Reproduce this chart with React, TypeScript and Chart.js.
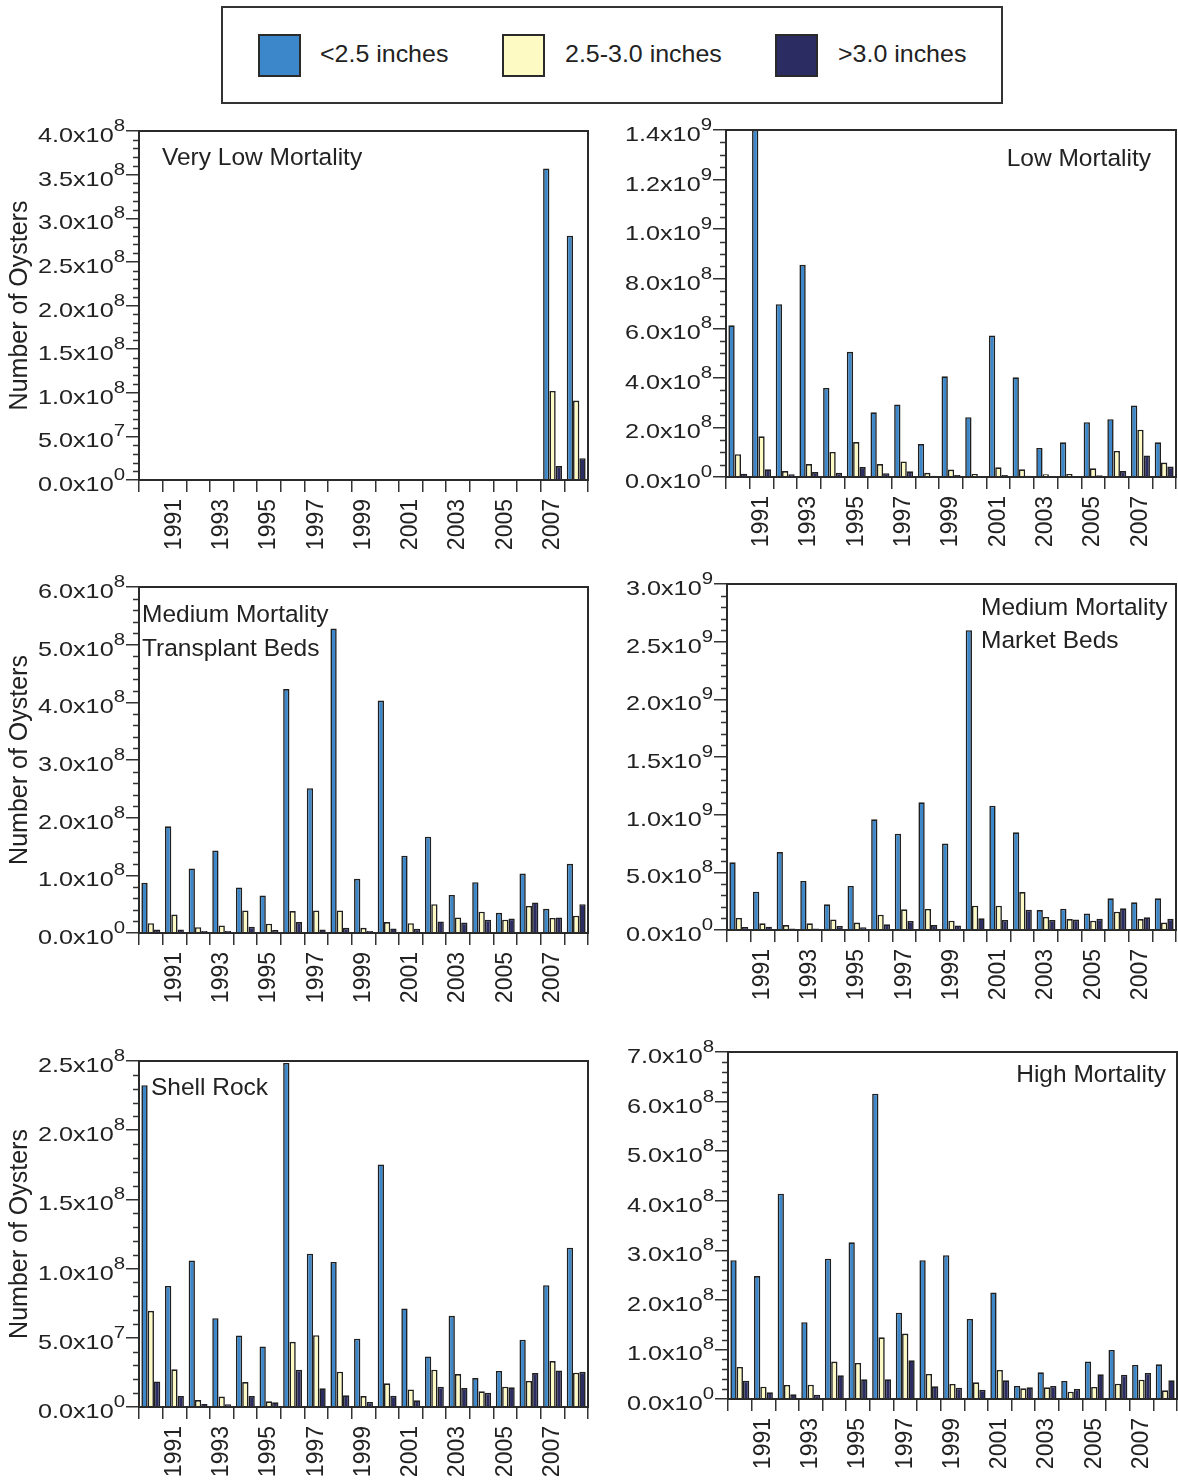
import React, { useEffect, useRef } from 'react';
import { Chart, registerables } from 'chart.js';

Chart.register(...registerables);

const FAMILY = '"Liberation Sans", Arial, Helvetica, sans-serif';

const YEARS = ['1990', '1991', '1992', '1993', '1994', '1995', '1996', '1997', '1998', '1999',
  '2000', '2001', '2002', '2003', '2004', '2005', '2006', '2007', '2008'];
const SERIES_LABELS = ['<2.5 inches', '2.5-3.0 inches', '>3.0 inches'];
const COLORS = ['#3b87c9', '#fefac4', '#2b2c62'];

// Very Low Mortality
const veryLowSmall = [0, 0, 0, 0, 0, 0, 0, 0, 0, 0, 0, 0, 0, 0, 0, 0, 0, 3.57e8, 2.8e8];
const veryLowMid = [0, 0, 0, 0, 0, 0, 0, 0, 0, 0, 0, 0, 0, 0, 0, 0, 0, 1.02e8, 0.91e8];
const veryLowLarge = [0, 0, 0, 0, 0, 0, 0, 0, 0, 0, 0, 0, 0, 0, 0, 0, 0, 0.16e8, 0.25e8];

// Low Mortality
const lowSmall = [6.12e8, 14.0e8, 6.97e8, 8.56e8, 3.59e8, 5.05e8, 2.61e8, 2.93e8, 1.33e8, 4.06e8,
  2.41e8, 5.71e8, 4.02e8, 1.17e8, 1.4e8, 2.21e8, 2.33e8, 2.88e8, 1.4e8];
const lowMid = [0.92e8, 1.64e8, 0.24e8, 0.52e8, 1.01e8, 1.41e8, 0.52e8, 0.63e8, 0.17e8, 0.3e8,
  0.12e8, 0.39e8, 0.31e8, 0.11e8, 0.12e8, 0.35e8, 1.05e8, 1.91e8, 0.58e8];
const lowLarge = [0.13e8, 0.31e8, 0.11e8, 0.2e8, 0.17e8, 0.4e8, 0.15e8, 0.23e8, 0.05e8, 0.08e8,
  0.04e8, 0.08e8, 0.05e8, 0.03e8, 0.04e8, 0.07e8, 0.24e8, 0.87e8, 0.42e8];

// Medium Mortality Transplant Beds
const transSmall = [0.87e8, 1.85e8, 1.12e8, 1.43e8, 0.79e8, 0.65e8, 4.23e8, 2.51e8, 5.28e8, 0.94e8,
  4.03e8, 1.34e8, 1.67e8, 0.66e8, 0.88e8, 0.35e8, 1.03e8, 0.42e8, 1.2e8];
const transMid = [0.17e8, 0.32e8, 0.1e8, 0.13e8, 0.39e8, 0.16e8, 0.38e8, 0.39e8, 0.39e8, 0.09e8,
  0.19e8, 0.17e8, 0.5e8, 0.27e8, 0.37e8, 0.23e8, 0.47e8, 0.26e8, 0.3e8];
const transLarge = [0.06e8, 0.06e8, 0.035e8, 0.035e8, 0.11e8, 0.05e8, 0.19e8, 0.06e8, 0.09e8, 0.035e8,
  0.08e8, 0.075e8, 0.2e8, 0.18e8, 0.23e8, 0.25e8, 0.53e8, 0.27e8, 0.5e8];

// Medium Mortality Market Beds
const marketSmall = [5.87e8, 3.32e8, 6.76e8, 4.25e8, 2.23e8, 3.82e8, 9.6e8, 8.35e8, 11.07e8, 7.49e8,
  26.0e8, 10.78e8, 8.47e8, 1.73e8, 1.85e8, 1.42e8, 2.75e8, 2.4e8, 2.75e8];
const marketMid = [1.04e8, 0.58e8, 0.43e8, 0.58e8, 0.92e8, 0.64e8, 1.33e8, 1.79e8, 1.82e8, 0.81e8,
  2.11e8, 2.11e8, 3.29e8, 1.13e8, 0.95e8, 0.81e8, 1.59e8, 0.95e8, 0.64e8];
const marketLarge = [0.26e8, 0.29e8, 0.12e8, 0.14e8, 0.35e8, 0.23e8, 0.49e8, 0.78e8, 0.43e8, 0.4e8,
  1.01e8, 0.87e8, 1.76e8, 0.87e8, 0.9e8, 0.98e8, 1.88e8, 1.1e8, 0.98e8];

// Shell Rock
const shellSmall = [2.325e8, 0.875e8, 1.058e8, 0.642e8, 0.517e8, 0.438e8, 2.486e8, 1.108e8, 1.048e8, 0.493e8,
  1.752e8, 0.712e8, 0.365e8, 0.659e8, 0.209e8, 0.26e8, 0.486e8, 0.88e8, 1.151e8];
const shellMid = [0.695e8, 0.272e8, 0.05e8, 0.075e8, 0.18e8, 0.041e8, 0.471e8, 0.519e8, 0.255e8, 0.079e8,
  0.171e8, 0.127e8, 0.269e8, 0.238e8, 0.113e8, 0.147e8, 0.188e8, 0.332e8, 0.248e8];
const shellLarge = [0.185e8, 0.079e8, 0.022e8, 0.019e8, 0.079e8, 0.034e8, 0.269e8, 0.135e8, 0.084e8, 0.036e8,
  0.082e8, 0.048e8, 0.147e8, 0.137e8, 0.103e8, 0.142e8, 0.245e8, 0.264e8, 0.255e8];

// High Mortality
const highSmall = [2.8e8, 2.48e8, 4.14e8, 1.55e8, 2.83e8, 3.16e8, 6.16e8, 1.74e8, 2.8e8, 2.9e8,
  1.615e8, 2.15e8, 0.262e8, 0.538e8, 0.363e8, 0.754e8, 0.99e8, 0.686e8, 0.7e8];
const highMid = [0.646e8, 0.249e8, 0.283e8, 0.289e8, 0.754e8, 0.727e8, 1.245e8, 1.32e8, 0.505e8, 0.303e8,
  0.336e8, 0.585e8, 0.215e8, 0.236e8, 0.148e8, 0.242e8, 0.31e8, 0.39e8, 0.175e8];
const highLarge = [0.37e8, 0.135e8, 0.094e8, 0.087e8, 0.478e8, 0.397e8, 0.397e8, 0.78e8, 0.256e8, 0.229e8,
  0.188e8, 0.377e8, 0.236e8, 0.262e8, 0.202e8, 0.498e8, 0.491e8, 0.525e8, 0.377e8];

type TitleLine = { text: string; x: number; y: number; align: CanvasTextAlign };
type PanelCfg = {
  side: 'left' | 'right';
  area: { L: number; T: number; R: number; B: number };
  max: number; major: number; minor: number;
  data: number[][];
  titles: TitleLine[];
};

const PANELS: PanelCfg[] = [
  {
    side: 'left', area: { L: 139, T: 131, R: 588, B: 480 }, max: 4e8, major: 0.5e8, minor: 1e7,
    data: [veryLowSmall, veryLowMid, veryLowLarge],
    titles: [{ text: 'Very Low Mortality', x: 162, y: 165, align: 'left' }],
  },
  {
    side: 'right', area: { L: 726, T: 130, R: 1176, B: 477 }, max: 1.4e9, major: 2e8, minor: 5e7,
    data: [lowSmall, lowMid, lowLarge],
    titles: [{ text: 'Low Mortality', x: 1151, y: 166, align: 'right' }],
  },
  {
    side: 'left', area: { L: 139, T: 587, R: 588, B: 933 }, max: 6e8, major: 1e8, minor: 2e7,
    data: [transSmall, transMid, transLarge],
    titles: [
      { text: 'Medium Mortality', x: 142, y: 622, align: 'left' },
      { text: 'Transplant Beds', x: 142, y: 656, align: 'left' },
    ],
  },
  {
    side: 'right', area: { L: 727, T: 584, R: 1176, B: 930 }, max: 3e9, major: 5e8, minor: 1e8,
    data: [marketSmall, marketMid, marketLarge],
    titles: [
      { text: 'Medium Mortality', x: 981, y: 615, align: 'left' },
      { text: 'Market Beds', x: 981, y: 648, align: 'left' },
    ],
  },
  {
    side: 'left', area: { L: 139, T: 1061, R: 588, B: 1407 }, max: 2.5e8, major: 5e7, minor: 1e7,
    data: [shellSmall, shellMid, shellLarge],
    titles: [{ text: 'Shell Rock', x: 151, y: 1095, align: 'left' }],
  },
  {
    side: 'right', area: { L: 728, T: 1052, R: 1177, B: 1399 }, max: 7e8, major: 1e8, minor: 2e7,
    data: [highSmall, highMid, highLarge],
    titles: [{ text: 'High Mortality', x: 1166, y: 1082, align: 'right' }],
  },
];

const PAD_TOP = 16;
const X_HEIGHT = 85;
const TICK_SX = 1.2;

function fmtTick(v: number): [string, string] {
  if (v === 0) return ['0.0', '0'];
  const e = Math.floor(Math.log10(v) + 1e-9);
  const m = v / Math.pow(10, e);
  return [m.toFixed(1), String(e)];
}

const decorPlugin = {
  id: 'panelDecor',
  afterDraw(chart: any, _args: any, opts: any) {
    const { ctx, chartArea: ca, scales } = chart;
    const y = scales.y;
    ctx.save();
    // minor ticks
    ctx.strokeStyle = '#333';
    ctx.lineWidth = 1.5;
    const n = Math.round(opts.max / opts.minor);
    const per = Math.round(opts.major / opts.minor);
    ctx.beginPath();
    for (let i = 0; i <= n; i++) {
      if (i % per === 0) continue;
      const py = Math.round(y.getPixelForValue(i * opts.minor)) + 0.5;
      ctx.moveTo(ca.left - 6, py);
      ctx.lineTo(ca.left, py);
    }
    ctx.stroke();
    // frame
    ctx.lineWidth = 2;
    ctx.strokeStyle = '#2a2a2a';
    ctx.strokeRect(ca.left, ca.top, ca.right - ca.left, ca.bottom - ca.top);
    // y tick labels with superscript exponents
    ctx.fillStyle = '#222';
    ctx.textAlign = 'right';
    ctx.textBaseline = 'alphabetic';
    const rx = ca.left - 14;
    for (const t of y.ticks) {
      const py = y.getPixelForValue(t.value);
      const [m, e] = fmtTick(t.value);
      ctx.save();
      ctx.translate(rx, py);
      ctx.scale(TICK_SX, 1);
      ctx.font = `17px ${FAMILY}`;
      const sw = ctx.measureText(e).width;
      ctx.fillText(e, 0, 0);
      ctx.font = `21px ${FAMILY}`;
      ctx.fillText(m + 'x10', -sw, 11);
      ctx.restore();
    }
    // panel titles
    ctx.font = `24.5px ${FAMILY}`;
    for (const tl of opts.titles) {
      ctx.textAlign = tl.align;
      ctx.fillText(tl.text, tl.x, tl.y);
    }
    ctx.restore();
  },
};

function Panel({ cfg }: { cfg: PanelCfg }) {
  const ref = useRef<HTMLCanvasElement>(null);
  const { L, T, R, B } = cfg.area;
  const cLeft = cfg.side === 'left' ? 0 : 600;
  const cWidth = cfg.side === 'left' ? 600 : 578;
  const cTop = T - PAD_TOP;
  const cHeight = B - T + PAD_TOP + X_HEIGHT;
  const padRight = cLeft + cWidth - R;

  useEffect(() => {
    if (!ref.current) return;
    const titles = cfg.titles.map((t) => ({ ...t, x: t.x - cLeft, y: t.y - cTop }));
    const chart = new Chart(ref.current, {
      type: 'bar',
      data: {
        labels: YEARS,
        datasets: cfg.data.map((d, i) => ({
          label: SERIES_LABELS[i],
          data: d,
          backgroundColor: COLORS[i],
          borderColor: '#1f1f1f',
          borderWidth: 1.6,
          categoryPercentage: 0.8,
          barPercentage: 1.0,
        })),
      },
      options: {
        responsive: false,
        animation: false,
        devicePixelRatio: 1,
        layout: { padding: { top: PAD_TOP, right: padRight, left: 0, bottom: 0 } },
        plugins: {
          legend: { display: false },
          tooltip: { enabled: false },
          panelDecor: { max: cfg.max, major: cfg.major, minor: cfg.minor, titles },
        } as any,
        scales: {
          x: {
            grid: { offset: true, drawOnChartArea: false, tickLength: 12, color: '#333', lineWidth: 1.5 },
            border: { display: false },
            ticks: {
              autoSkip: false,
              maxRotation: 90,
              minRotation: 90,
              padding: 7,
              color: '#222',
              font: { family: FAMILY, size: 23 },
              callback: (_v: any, i: number) => (Number(YEARS[i]) % 2 === 1 ? YEARS[i] : ''),
            },
            afterFit: (s: any) => { s.height = X_HEIGHT; s.paddingLeft = 0; s.paddingRight = 0; },
          },
          y: {
            min: 0,
            max: cfg.max,
            ticks: { stepSize: cfg.major, display: false },
            grid: { drawOnChartArea: false, tickLength: 13, color: '#333', lineWidth: 1.5 },
            border: { display: false },
            title: {
              display: cfg.side === 'left',
              text: 'Number of Oysters',
              color: '#222',
              font: { family: FAMILY, size: 25 },
              padding: { top: 5, bottom: 0 },
            },
            afterFit: (s: any) => { s.width = L - cLeft; s.paddingTop = 0; s.paddingBottom = 0; },
          },
        },
      } as any,
      plugins: [decorPlugin],
    });
    return () => chart.destroy();
  }, []);

  return (
    <canvas
      ref={ref}
      width={cWidth}
      height={cHeight}
      style={{ position: 'absolute', left: cLeft, top: cTop, width: cWidth, height: cHeight }}
    />
  );
}

const LEGEND_ITEMS = [
  { swatchX: 258, textX: 320 },
  { swatchX: 502, textX: 565 },
  { swatchX: 775, textX: 838 },
];

export default function App() {
  return (
    <div style={{ position: 'absolute', left: 0, top: 0, width: 1178, height: 1484, overflow: 'hidden', background: '#fff', fontFamily: FAMILY }}>
      <div style={{ position: 'absolute', left: 221, top: 6, width: 782, height: 98, boxSizing: 'border-box', border: '2px solid #333' }} />
      {LEGEND_ITEMS.map((it, i) => (
        <React.Fragment key={i}>
          <div style={{ position: 'absolute', left: it.swatchX, top: 34, width: 43, height: 43, boxSizing: 'border-box', border: '2px solid #2a2a2a', background: COLORS[i] }} />
          <div style={{ position: 'absolute', left: it.textX, top: 39, height: 30, lineHeight: '30px', fontSize: 24, color: '#222', whiteSpace: 'nowrap', transform: 'scaleX(1.04)', transformOrigin: 'left center' }}>{SERIES_LABELS[i]}</div>
        </React.Fragment>
      ))}
      {PANELS.map((p, i) => <Panel key={i} cfg={p} />)}
    </div>
  );
}
